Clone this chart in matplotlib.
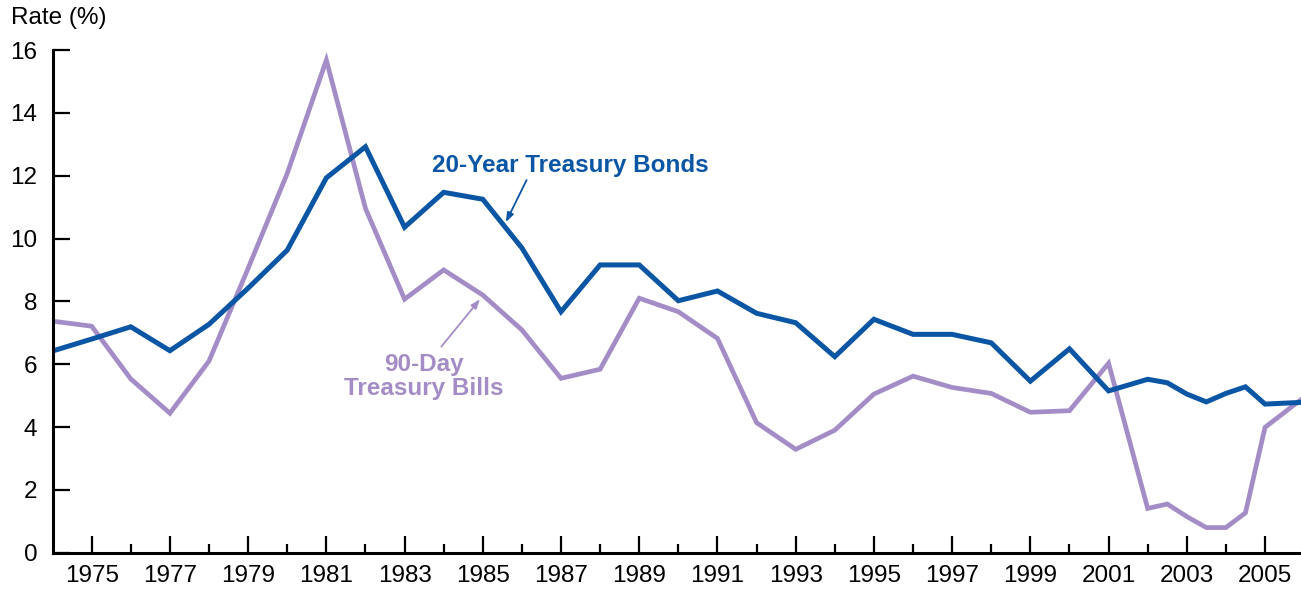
import matplotlib.pyplot as plt
import numpy as np

plt.rcParams['font.family'] = ['Liberation Sans', 'DejaVu Sans']

# yearly rates, with half-year points through 2002-2005
years = [1974, 1975, 1976, 1977, 1978, 1979, 1980, 1981, 1982, 1983, 1984,
         1985, 1986, 1987, 1988, 1989, 1990, 1991, 1992, 1993, 1994, 1995,
         1996, 1997, 1998, 1999, 2000, 2001, 2002, 2002.5, 2003, 2003.5,
         2004, 2004.5, 2005, 2006]
bonds_20yr = [6.42, 6.80, 7.19, 6.43, 7.27, 8.42, 9.63, 11.93, 12.92, 10.36,
              11.47, 11.25, 9.70, 7.67, 9.16, 9.16, 8.02, 8.33, 7.62, 7.32,
              6.24, 7.43, 6.95, 6.95, 6.68, 5.46, 6.49, 5.15, 5.52, 5.41,
              5.05, 4.80, 5.07, 5.28, 4.73, 4.79]
bills_90day = [7.37, 7.21, 5.53, 4.44, 6.10, 9.05, 12.07, 15.68, 10.96, 8.07,
               9.00, 8.20, 7.09, 5.55, 5.84, 8.10, 7.67, 6.82, 4.14, 3.29,
               3.90, 5.05, 5.62, 5.26, 5.07, 4.47, 4.52, 6.03, 1.41, 1.55,
               1.15, 0.80, 0.80, 1.27, 3.99, 4.95]

major_years = np.arange(1975, 2006, 2)
minor_years = np.arange(1976, 2006, 2)

blue = '#0b56a4'
purple = '#a48dc7'
fs = 17.5

fig = plt.figure(figsize=(13.01, 5.89), dpi=100)
ax = fig.add_axes([0.0404, 0.0616, 0.9596, 0.8535])

ax.plot(years, bills_90day, color=purple, lw=3.4, solid_joinstyle='miter')
ax.plot(years, bonds_20yr, color=blue, lw=3.6, solid_joinstyle='miter')

ax.set_xlim(1974, 2005.92)
ax.set_ylim(0, 16)

for side in ('top', 'right'):
    ax.spines[side].set_visible(False)
for side in ('left', 'bottom'):
    ax.spines[side].set_linewidth(2.2)

ax.set_yticks(np.arange(0, 17, 2))
ax.set_xticks(major_years)
ax.set_xticks(minor_years, minor=True)
ax.tick_params(axis='both', which='major', direction='in', length=12.5,
               width=1.6, labelsize=fs, pad=9, color='black')
ax.tick_params(axis='x', which='minor', direction='in', length=6.5,
               width=1.6)
ax.tick_params(axis='y', which='major', pad=11)

fig.text(11 / 1301, 1 - 18 / 589, 'Rate (%)', fontsize=fs,
         ha='left', va='center')

# series labels with pointer arrows
ax.text(1987.25, 12.33, '20-Year Treasury Bonds', color=blue, fontsize=fs,
        fontweight='bold', ha='center', va='center')
ax.annotate('', xy=(1985.59, 10.52), xytext=(1986.12, 11.86),
            arrowprops=dict(arrowstyle='-|>,head_length=0.55,head_width=0.2',
                            color=blue, lw=1.3, shrinkA=0, shrinkB=0))

ax.text(1983.49, 5.62, '90-Day\nTreasury Bills', color=purple, fontsize=fs,
        fontweight='bold', ha='center', va='center', linespacing=1.05)
ax.annotate('', xy=(1984.93, 8.07), xytext=(1983.94, 6.56),
            arrowprops=dict(arrowstyle='-|>,head_length=0.55,head_width=0.2',
                            color=purple, lw=1.3, shrinkA=0, shrinkB=0))

fig.savefig('out.png', dpi=100)
